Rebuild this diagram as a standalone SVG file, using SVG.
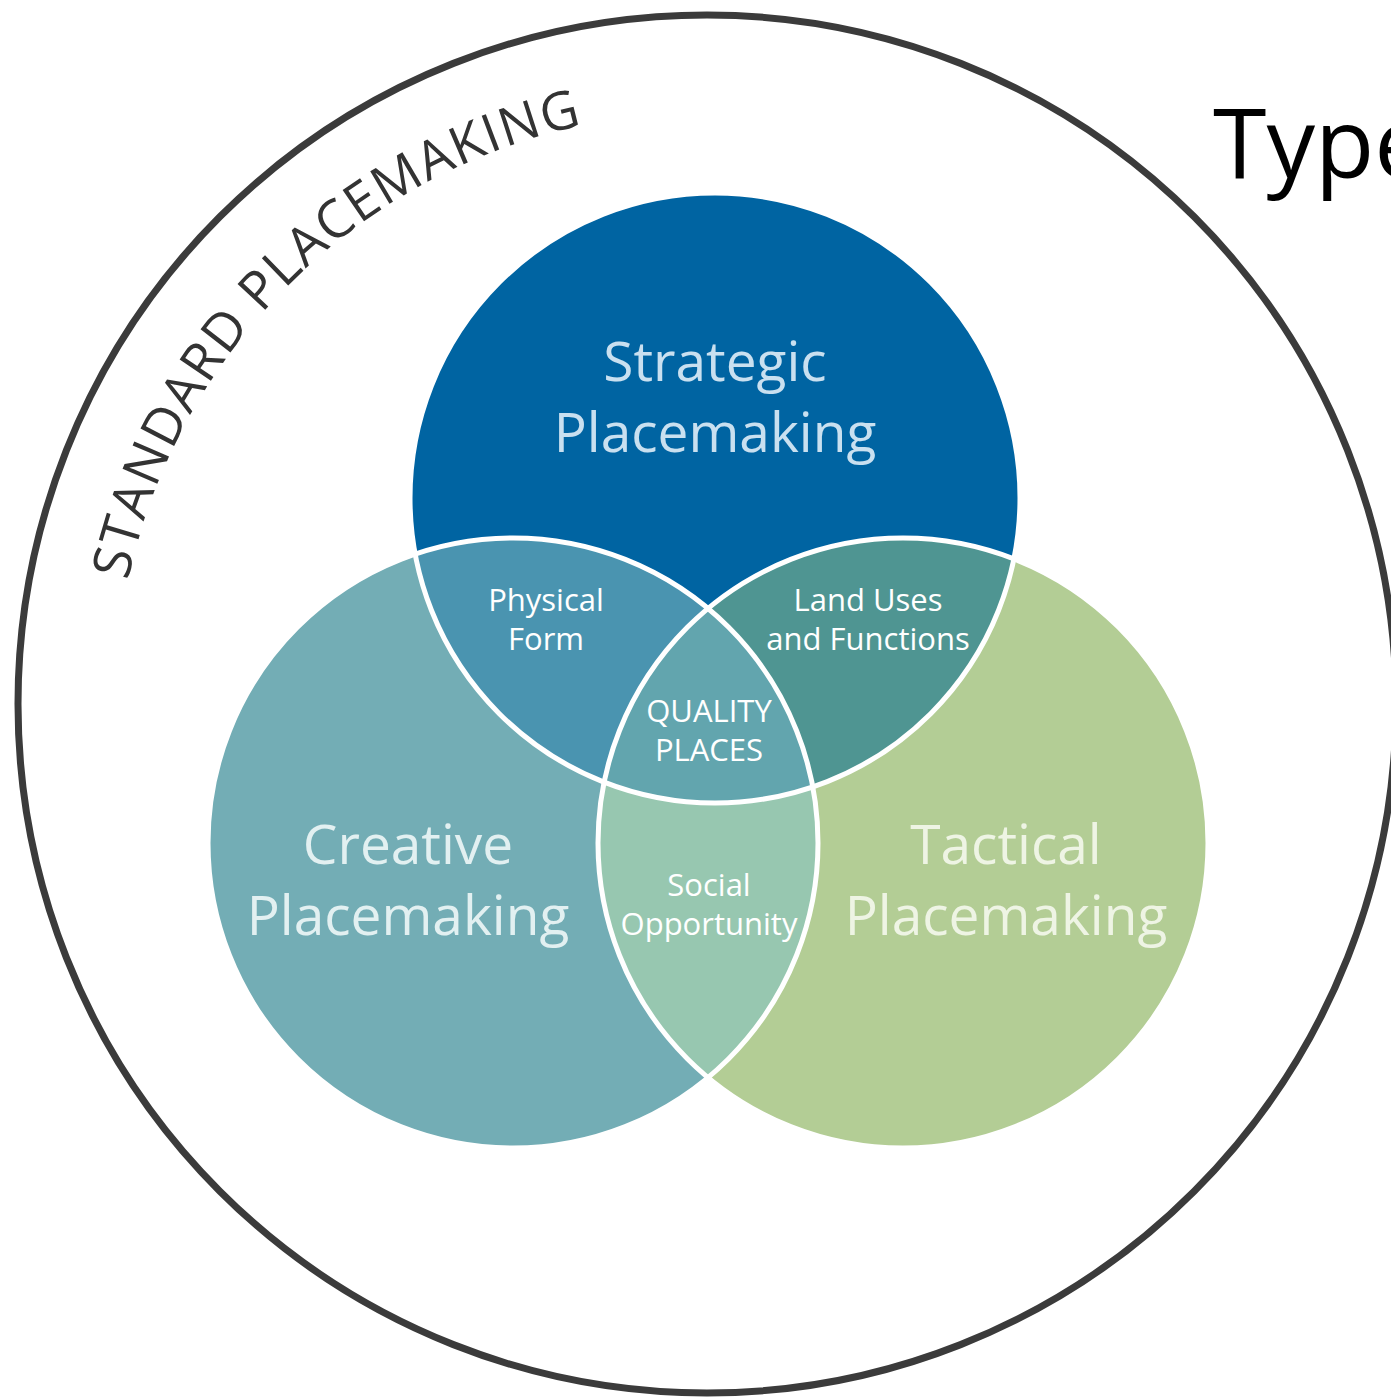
<svg xmlns="http://www.w3.org/2000/svg" width="1391" height="1400" viewBox="0 0 1391 1400">
  <style>
    .lbl { font-family: "Open Sans", "Liberation Sans", sans-serif; text-anchor: middle; }
    .big { font-size: 55px; }
    .small { font-size: 31px; fill: #ffffff; }
    .divider { fill: none; stroke: #ffffff; stroke-width: 5; }
  </style>
  <defs>
    <clipPath id="clip-strategic"><circle cx="715" cy="498" r="305"/></clipPath>
    <clipPath id="clip-creative"><circle cx="513" cy="843" r="305"/></clipPath>
    <clipPath id="clip-tactical"><circle cx="903" cy="843" r="305"/></clipPath>
    <path id="standard-arc" d="M 115 704 A 592 592 0 0 1 707 112"/>
  </defs>

  <rect width="1391" height="1400" fill="#ffffff"/>

  <!-- outer ring: standard placemaking -->
  <g id="standard-placemaking">
    <circle cx="707" cy="704" r="689" fill="none" stroke="#3b3b3b" stroke-width="7"/>
    <text class="lbl" font-size="53" fill="#333333" letter-spacing="1.5">
      <textPath href="#standard-arc" startOffset="50%">STANDARD PLACEMAKING</textPath>
    </text>
  </g>

  <text id="title" x="1213" y="178" font-family="'Open Sans', 'Liberation Sans', sans-serif" font-size="97" fill="#000000">Type</text>

  <!-- main circles -->
  <g id="strategic">
    <circle cx="715" cy="498" r="305" fill="#0064a2"/>
  </g>
  <g id="creative">
    <circle cx="513" cy="843" r="305" fill="#73adb5"/>
  </g>
  <g id="tactical">
    <circle cx="903" cy="843" r="305" fill="#b3cd95"/>
  </g>

  <!-- pairwise overlaps -->
  <g id="physical-form">
    <circle cx="513" cy="843" r="305" fill="#4a94b0" clip-path="url(#clip-strategic)"/>
  </g>
  <g id="land-uses">
    <circle cx="903" cy="843" r="305" fill="#4f9592" clip-path="url(#clip-strategic)"/>
  </g>
  <g id="social-opportunity">
    <circle cx="903" cy="843" r="305" fill="#97c7b0" clip-path="url(#clip-creative)"/>
  </g>
  <!-- triple overlap -->
  <g id="quality-places">
    <g clip-path="url(#clip-creative)">
      <circle cx="903" cy="843" r="305" fill="#62a5ae" clip-path="url(#clip-strategic)"/>
    </g>
  </g>

  <!-- white dividing arcs -->
  <g id="dividers">
    <circle class="divider" cx="715" cy="498" r="305"/>
    <circle class="divider" cx="513" cy="843" r="305"/>
    <circle class="divider" cx="903" cy="843" r="305"/>
  </g>

  <!-- labels -->
  <g id="labels">
    <text class="lbl big" fill="#c9e0f0" x="715" y="381">Strategic</text>
    <text class="lbl big" fill="#c9e0f0" x="715" y="452">Placemaking</text>
    <text class="lbl big" fill="#e2f0f1" x="408" y="864">Creative</text>
    <text class="lbl big" fill="#e2f0f1" x="408" y="935">Placemaking</text>
    <text class="lbl big" fill="#eef4e4" x="1006" y="864">Tactical</text>
    <text class="lbl big" fill="#eef4e4" x="1006" y="935">Placemaking</text>
    <text class="lbl small" x="546" y="611">Physical</text>
    <text class="lbl small" x="546" y="650">Form</text>
    <text class="lbl small" x="868" y="611">Land Uses</text>
    <text class="lbl small" x="868" y="650">and Functions</text>
    <text class="lbl small" x="709" y="722">QUALITY</text>
    <text class="lbl small" x="709" y="761">PLACES</text>
    <text class="lbl small" x="709" y="896">Social</text>
    <text class="lbl small" x="709" y="935">Opportunity</text>
  </g>
</svg>
